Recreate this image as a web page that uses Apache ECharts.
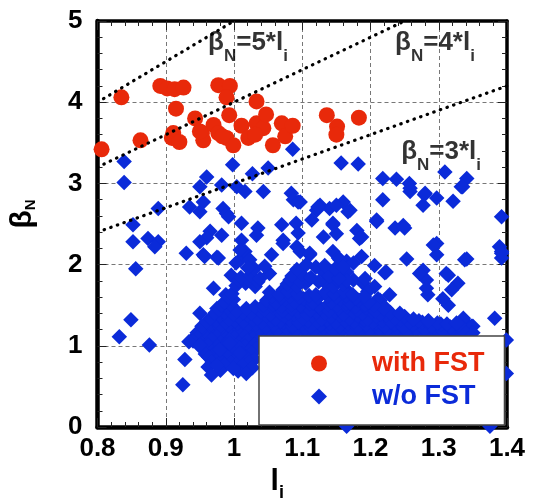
<!DOCTYPE html>
<html>
<head>
<meta charset="utf-8">
<script src="https://cdn.jsdelivr.net/npm/echarts@6/dist/echarts.min.js"></script>
<style>
html, body { margin: 0; padding: 0; background: #fff; }
#main { width: 533px; height: 500px; }
</style>
</head>
<body>
<div id="main"></div>
<script>
// li / betaN
var withFst = [
	[0.806,3.42],[0.835,4.06],[0.863,3.53],[0.892,4.20],[0.902,4.17],[0.913,4.16],[0.926,4.18],
	[0.915,3.92],[0.911,3.62],[0.909,3.56],[0.920,3.51],[0.943,3.80],[0.953,3.62],[0.955,3.53],
	[0.970,3.72],[0.977,3.62],[0.977,4.21],[0.994,4.20],[0.989,4.06],[0.993,3.84],[0.989,3.56],
	[0.999,3.47],[1.011,3.71],[1.021,3.56],[1.033,4.01],[1.033,3.74],[1.043,3.68],[1.047,3.85],
	[1.031,3.60],[1.057,3.47],[1.070,3.74],[1.075,3.58],[1.086,3.71],[1.136,3.84],[1.151,3.70],
	[1.150,3.60],[1.183,3.81],[0.950,3.64],[0.983,3.58]
];

// sparse diamonds above the cluster
var noFstUpper = [
	[0.839,3.27],[0.839,3.01],[1.086,3.42],[0.998,3.23],[1.050,3.19],[1.027,3.12],[1.157,3.25],
	[1.182,3.24],[1.218,3.06],[1.238,3.05],[1.257,3.00],[1.309,3.14],[1.341,3.06],[1.333,2.96],
	[1.280,2.88],[1.258,2.90],[1.218,2.80],[1.297,2.82],[1.321,2.78],[1.277,2.73],[1.392,2.59],
	[0.960,3.08],[0.950,2.96],[0.982,2.98],[1.004,2.96],[1.016,2.90],[1.043,2.90],[1.084,2.88],
	[1.087,2.80],[1.094,2.77],[0.935,2.71],[0.950,2.65],[0.955,2.77],[0.984,2.69],[0.989,2.63],
	[0.889,2.69],[0.852,2.49],[1.126,2.73],[1.140,2.69],[1.160,2.77],[1.150,2.73],[1.170,2.67],
	[1.121,2.67],[1.114,2.55],[1.145,2.51],[1.209,2.55],[1.236,2.45],[1.248,2.48],[1.180,2.42],
	[1.187,2.34],[1.150,2.38],[1.131,2.34],[1.091,2.51],[1.094,2.39],[1.070,2.49],[1.072,2.30],
	[1.035,2.45],[1.033,2.36],[1.011,2.51],[1.011,2.30],[0.965,2.41],[0.960,2.33],[0.950,2.28],
	[0.874,2.32],[0.889,2.28],[0.852,2.28],[0.884,2.22],[1.297,2.26],[1.389,2.22],[1.097,2.77],
	[1.123,2.71],[1.167,2.65],[1.145,2.49],[1.184,2.32],[1.209,2.53],[1.250,2.45],[1.258,2.94],
	[1.279,2.86],[1.335,2.96],[0.982,2.36],[0.992,2.59]
];

// middle band, betaN about 1.3 to 2.3
var noFstMiddle = [
	[0.856,1.95],[0.849,1.32],[0.832,1.11],[0.876,1.01],[0.930,2.14],[0.955,2.12],[0.975,2.09],
	[0.996,1.87],[0.970,1.71],[0.988,1.63],[0.975,1.46],[0.950,1.40],[1.009,2.06],[1.016,2.16],
	[1.055,2.12],[1.092,2.22],[1.097,2.16],[1.111,2.12],[1.145,2.16],[1.153,2.08],[1.165,2.04],
	[1.187,2.10],[1.297,2.12],[1.253,2.07],[1.341,2.07],[1.392,2.16],[1.392,2.08],[1.206,1.99],
	[1.221,1.90],[1.277,1.93],[1.282,1.81],[1.284,1.63],[1.282,1.71],[1.314,1.87],[1.328,1.77],
	[1.319,1.69],[1.314,1.50],[1.338,1.30],[1.348,1.24],[1.382,1.34],[1.228,1.63],[1.206,1.73],
	[1.175,1.81],[1.189,1.77],[1.165,1.69],[1.196,1.67],[1.211,1.58],[1.162,1.54],[1.223,1.46],
	[1.175,1.38],[1.160,1.30],[1.009,2.18],[1.023,2.06],[1.072,2.26],[1.111,2.14],[1.155,2.06],
	[1.175,2.02],[1.223,1.91],[1.292,2.24],[1.311,1.89],[1.338,2.06],[1.392,2.14],[1.052,1.89],
	[1.087,1.81],[1.072,1.69],[1.131,1.91],[1.165,1.91],[1.192,1.83],[1.214,1.56],[1.272,1.89],
	[1.306,1.58],[1.336,1.34],[1.350,1.24],[0.945,1.13],[0.962,1.11],[0.957,2.10],[0.977,2.08]
];

// the dense cluster
var noFstCluster = [
	[0.946,1.16],[0.959,1.13],[0.972,1.17],[0.985,1.14],[0.998,1.18],[1.012,1.13],[1.025,1.16],
	[1.039,1.19],[1.052,1.14],[1.066,1.17],[1.079,1.13],[1.093,1.18],[1.106,1.15],[1.120,1.12],
	[1.133,1.17],[1.147,1.14],[1.160,1.19],[1.174,1.13],[1.187,1.16],[1.201,1.14],[1.214,1.18],
	[1.228,1.13],[1.241,1.16],[1.255,1.14],[1.268,1.19],[1.282,1.13],[1.295,1.17],[1.309,1.14],
	[1.322,1.18],[1.336,1.13],[1.350,1.16],
	[0.955,1.20],[0.969,1.21],[0.982,1.19],[0.996,1.22],[1.009,1.20],[1.023,1.21],[1.036,1.19],
	[1.050,1.21],[1.063,1.20],[1.077,1.22],[1.090,1.19],[1.104,1.21],[1.117,1.20],[1.131,1.22],
	[1.144,1.19],[1.158,1.21],[1.171,1.20],[1.185,1.22],[1.198,1.19],[1.212,1.21],[1.225,1.20],
	[1.239,1.22],[1.252,1.19],[1.266,1.21],[1.279,1.20],[1.293,1.22],[1.306,1.19],[1.320,1.21],
	[1.334,1.20],
	[0.953,1.24],[0.966,1.27],[0.979,1.23],[0.992,1.26],[1.005,1.28],[1.019,1.24],[1.032,1.27],
	[1.046,1.23],[1.059,1.26],[1.073,1.29],[1.086,1.24],[1.100,1.27],[1.113,1.23],[1.127,1.26],
	[1.140,1.28],[1.154,1.24],[1.167,1.27],[1.181,1.23],[1.194,1.26],[1.208,1.28],[1.221,1.24],
	[1.235,1.27],[1.248,1.23],[1.262,1.26],[1.276,1.29],[1.289,1.24],[1.303,1.27],[1.317,1.23],
	[1.330,1.26],
	[0.960,1.30],[0.974,1.31],[0.987,1.29],[1.001,1.31],[1.014,1.30],[1.028,1.32],[1.041,1.29],
	[1.055,1.31],[1.068,1.30],[1.082,1.32],[1.095,1.29],[1.109,1.31],[1.122,1.30],[1.136,1.32],
	[1.149,1.29],[1.163,1.31],[1.176,1.30],[1.190,1.32],[1.203,1.29],[1.217,1.31],[1.230,1.30],
	[1.244,1.32],[1.257,1.29],[1.271,1.31],[1.284,1.30],[1.298,1.28],[1.312,1.27],[1.326,1.28],
	[0.966,1.34],[0.980,1.37],[0.993,1.33],[1.007,1.36],[1.020,1.38],[1.034,1.34],[1.047,1.37],
	[1.061,1.33],[1.074,1.36],[1.088,1.39],[1.101,1.34],[1.115,1.37],[1.128,1.33],[1.142,1.36],
	[1.155,1.38],[1.169,1.34],[1.182,1.37],[1.196,1.33],[1.209,1.36],[1.223,1.38],[1.236,1.34],
	[1.250,1.36],[1.263,1.33],[1.285,1.31],
	[0.972,1.40],[0.986,1.41],[0.999,1.39],[1.013,1.41],[1.026,1.40],[1.040,1.42],[1.053,1.39],
	[1.067,1.41],[1.080,1.40],[1.094,1.42],[1.107,1.39],[1.121,1.41],[1.134,1.40],[1.148,1.42],
	[1.161,1.39],[1.175,1.41],[1.188,1.40],[1.202,1.42],[1.215,1.39],[1.229,1.41],[1.243,1.40],
	[0.978,1.44],[0.991,1.47],[1.004,1.43],[1.018,1.46],[1.031,1.48],[1.045,1.44],[1.058,1.47],
	[1.072,1.43],[1.085,1.46],[1.099,1.49],[1.112,1.44],[1.126,1.47],[1.139,1.43],[1.153,1.46],
	[1.166,1.48],[1.180,1.44],[1.193,1.47],[1.207,1.43],[1.220,1.46],
	[0.982,1.50],[0.995,1.51],[1.043,1.50],[1.057,1.51],[1.070,1.49],[1.084,1.51],[1.097,1.50],
	[1.111,1.52],[1.124,1.49],[1.138,1.51],[1.151,1.50],[1.165,1.52],[1.178,1.49],[1.192,1.51],
	[1.205,1.50],
	[0.986,1.54],[0.999,1.57],[1.048,1.56],[1.062,1.53],[1.075,1.57],[1.089,1.54],[1.102,1.58],
	[1.116,1.53],[1.143,1.54],[1.156,1.57],[1.170,1.53],[1.183,1.56],[1.197,1.54],
	[0.992,1.60],[1.055,1.61],[1.069,1.59],[1.082,1.61],[1.096,1.60],[1.110,1.62],[1.123,1.59],
	[1.137,1.61],[1.150,1.60],[1.164,1.62],[1.178,1.59],[1.191,1.61],
	[0.997,1.64],[1.052,1.66],[1.066,1.63],[1.079,1.67],[1.093,1.64],[1.120,1.63],[1.134,1.66],
	[1.147,1.64],[1.161,1.67],[1.174,1.63],
	[1.003,1.74],[1.017,1.77],[1.031,1.73],[1.078,1.76],[1.092,1.73],[1.105,1.77],[1.133,1.78],
	[1.146,1.73],[1.160,1.76],
	[1.007,1.80],[1.021,1.81],[1.035,1.79],[1.082,1.81],[1.096,1.80],[1.110,1.82],[1.124,1.79],
	[1.151,1.81],[1.165,1.80],
	[1.010,1.84],[1.024,1.87],[1.038,1.83],[1.085,1.86],[1.099,1.88],[1.113,1.84],[1.140,1.86],
	[1.154,1.83],
	[1.030,1.95],[1.045,1.98],[1.092,1.94],[1.120,1.97],[1.148,1.95],[1.003,2.02],[1.020,1.96],
	[1.106,2.00],[1.133,1.99],[1.160,1.97]
];

// below betaN = 1.1, left of the legend box, plus edge points
var noFstLower = [
	[0.947,1.10],[0.961,1.09],[0.974,1.11],[0.988,1.09],[1.001,1.10],[1.015,1.11],[1.028,1.09],
	[0.940,1.06],[0.953,1.03],[0.967,1.07],[0.980,1.04],[0.993,1.07],[1.007,1.03],[1.020,1.06],
	[1.032,1.04],[0.949,1.00],[0.962,1.01],[0.976,0.99],[0.989,1.01],[1.003,1.00],[1.016,0.99],
	[1.030,1.01],[0.955,0.96],[0.968,0.93],[0.995,0.94],[1.008,0.97],[1.022,0.93],[1.033,0.96],
	[0.958,0.90],[0.972,0.91],[0.985,0.89],[0.999,0.91],[1.012,0.90],[1.026,0.91],
	[0.963,0.86],[0.976,0.83],[0.990,0.87],[1.003,0.84],[1.017,0.86],[1.030,0.83],
	[0.968,0.80],[0.981,0.81],[0.995,0.79],[1.008,0.81],[1.022,0.80],[0.986,0.77],
	[1.012,0.75],[1.027,0.73],[0.980,0.70],[1.006,0.69],[0.934,1.05],[0.928,0.83],[0.925,0.52],
	[0.950,1.01],[0.962,0.74],[0.967,0.64],[0.975,0.76],[0.999,0.72],[1.018,0.66],[0.979,0.95],
	[0.994,1.03],[1.009,0.91],
	[1.399,1.07],[1.399,0.66],[1.165,0.01],[1.375,0.01]
];

// the three reference lines, end points
var lineFive = [[0.8, 4.0], [1.0, 5.0]];
var lineFour = [[0.8, 3.2], [1.25, 5.0]];
var lineThree = [[0.8, 2.4], [1.4, 4.2]];

// labels of the lines: anchor (top left), coefficient
var lineNotes = [
	{ value: [0.962, 4.89], k: '5' },
	{ value: [1.236, 4.89], k: '4' },
	{ value: [1.245, 3.55], k: '3' }
];

var xMin = 0.8, xMax = 1.4, xStep = 0.1;
var yMin = 0, yMax = 5, yStep = 1;

var RED = '#e8290a';
var BLUE = '#0b2bd9';
var FONT = '"Liberation Sans", Arial, Helvetica, sans-serif';

var chart = echarts.init(document.getElementById('main'), null, { renderer: 'canvas' });

function makeAxis(isX, main) {
	var ax = {
		type: 'value',
		min: isX ? xMin : yMin,
		max: isX ? xMax : yMax,
		interval: isX ? xStep : yStep,
		position: isX ? (main ? 'bottom' : 'top') : (main ? 'left' : 'right'),
		axisLine: { show: true, onZero: false, lineStyle: { color: '#000', width: main ? 4.5 : 3.5 } },
		axisTick: { show: true, inside: true, length: 9, lineStyle: { color: '#222', width: 1 } },
		minorTick: { show: true, splitNumber: 5, length: 5, lineStyle: { color: '#222', width: 1 } },
		axisLabel: { show: false },
		splitLine: { show: false },
		minorSplitLine: { show: false }
	};
	if (main) {
		ax.axisLabel = {
			show: true,
			margin: isX ? 9 : 15,
			fontSize: 26,
			fontWeight: 'bold',
			fontFamily: FONT,
			color: '#000'
		};
		ax.splitLine = { show: true, lineStyle: { color: '#777', width: 1, type: [4, 3] } };
	}
	return ax;
}

var xMain = makeAxis(true, true);
xMain.name = '{b|l}{s|i}';
xMain.nameLocation = 'middle';
xMain.nameGap = 40;
xMain.nameTextStyle = {
	padding: [0, 50, 0, 0],
	rich: {
		b: { fontSize: 30, fontWeight: 'bold', fontFamily: FONT, color: '#000', lineHeight: 30, verticalAlign: 'top' },
		s: { fontSize: 18, fontWeight: 'bold', fontFamily: FONT, color: '#000', lineHeight: 53 }
	}
};

var yMain = makeAxis(false, true);
yMain.name = '{b|β}{s|N}';
yMain.nameLocation = 'middle';
yMain.nameRotate = 90;
yMain.nameGap = 44;
yMain.nameTextStyle = {
	padding: [0, 0, 0, 20],
	rich: {
		b: { fontSize: 30, fontWeight: 'bold', fontFamily: FONT, color: '#000', lineHeight: 30, verticalAlign: 'top' },
		s: { fontSize: 15, fontWeight: 'bold', fontFamily: FONT, color: '#000', lineHeight: 46 }
	}
};

function refLine(data) {
	return {
		type: 'line',
		data: data,
		symbol: 'none',
		silent: true,
		z: 5,
		lineStyle: { color: '#000', width: 3.2, type: [0.5, 6.5], cap: 'round' }
	};
}

var noteRich = {
	b: { fontSize: 26, fontWeight: 'bold', fontFamily: FONT, color: '#000', lineHeight: 28, verticalAlign: 'top' },
	s: { fontSize: 17, fontWeight: 'bold', fontFamily: FONT, color: '#000', lineHeight: 53 }
};

var option = {
	animation: false,
	backgroundColor: '#fff',
	grid: { left: 97.5, right: 26, top: 21, bottom: 73, containLabel: false, outerBoundsMode: 'none' },
	xAxis: [xMain, makeAxis(true, false)],
	yAxis: [yMain, makeAxis(false, false)],
	legend: {
		orient: 'vertical',
		left: 259,
		top: 336,
		itemWidth: 16,
		itemHeight: 16,
		itemGap: 6,
		padding: [14, 20, 15, 52],
		backgroundColor: '#fff',
		borderColor: '#444',
		borderWidth: 1.5,
		z: 20,
		selectedMode: false,
		textStyle: { fontSize: 27, fontWeight: 'bold', fontFamily: FONT, padding: [0, 0, 0, 40] },
		data: [
			{ name: 'with FST', icon: 'circle', textStyle: { color: RED } },
			{ name: 'w/o FST', icon: 'diamond', textStyle: { color: BLUE } }
		]
	},
	series: [
		{
			name: 'w/o FST',
			type: 'scatter',
			symbol: 'diamond',
			symbolSize: 15.5,
			z: 2,
			itemStyle: { color: BLUE, opacity: 1 },
			data: noFstUpper.concat(noFstMiddle, noFstCluster, noFstLower)
		},
		{
			name: 'with FST',
			type: 'scatter',
			symbol: 'circle',
			symbolSize: 16,
			z: 3,
			itemStyle: { color: RED, opacity: 1 },
			data: withFst
		},
		refLine(lineFive),
		refLine(lineFour),
		refLine(lineThree),
		{
			type: 'scatter',
			symbolSize: 0,
			silent: true,
			z: 6,
			data: lineNotes,
			label: {
				show: true,
				position: [0, 0],
				align: 'left',
				verticalAlign: 'top',
				formatter: function (p) {
					return '{b|β}{s|N}{b|=' + p.data.k + '*l}{s|i}';
				},
				rich: noteRich
			}
		}
	]
};

chart.setOption(option);
</script>
</body>
</html>
